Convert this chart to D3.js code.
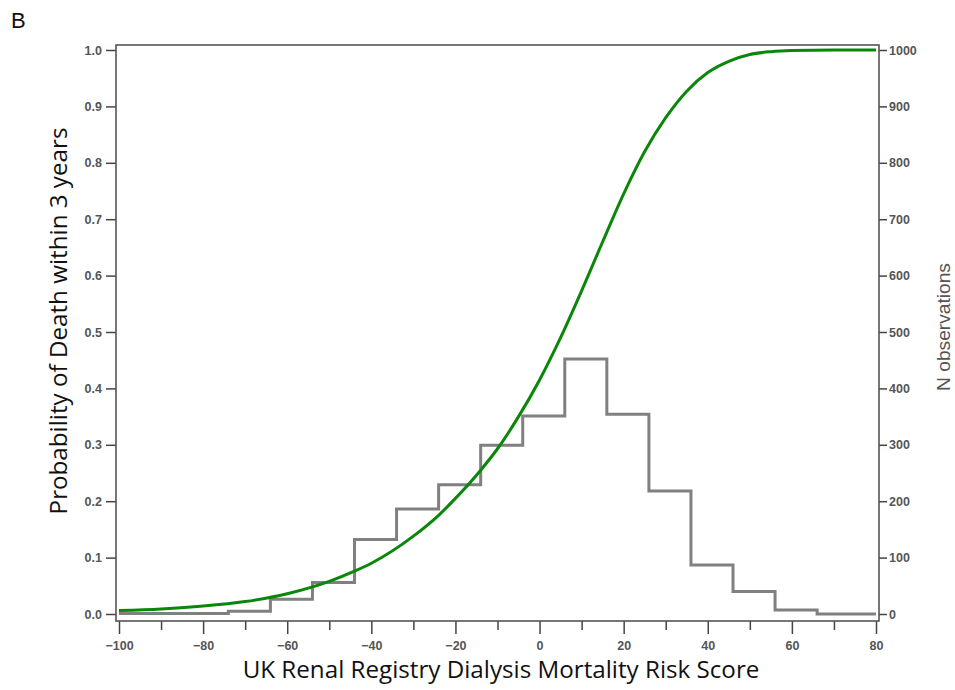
<!DOCTYPE html>
<html>
<head>
<meta charset="utf-8">
<script src="https://cdn.jsdelivr.net/npm/d3@7"></script>
<style>
  body { margin: 0; background: #fff; }
  svg { display: block; }
</style>
</head>
<body>
<div id="chart"></div>
<script>
// histogram of scores (right axis, N observations)
const binEdges = [-100, -74, -64, -54, -44, -34, -24, -14, -4, 6, 16, 26, 36, 46, 56, 66, 80];
const binCounts = [1, 5, 26, 56, 132, 186, 229, 299, 351, 452, 354, 218, 87, 40, 7, 0];

// probability of death within 3 years
const curveScore = [-100, -90, -80, -70, -60, -50, -44, -40, -30, -24, -20, -14, -10, -5, 0, 5, 10, 15, 20, 25, 30, 35, 40, 45, 50, 55, 60, 70, 80];
const curveProb  = [0.006, 0.009, 0.014, 0.022, 0.036, 0.058, 0.076, 0.090, 0.138, 0.175, 0.205, 0.255, 0.293, 0.350, 0.415, 0.490, 0.573, 0.660, 0.745, 0.820, 0.880, 0.927, 0.960, 0.980, 0.992, 0.997, 0.999, 1.0, 1.0];

const xMajor = d3.range(-100, 81, 20);
const xMinor = d3.range(-90, 80, 20);
const yLeftTicks = d3.range(0, 1.01, 0.1);
const yRightTicks = d3.range(0, 1001, 100);

const WIDTH = 955, HEIGHT = 690;
const frame = {left: 116, right: 879, top: 45, bottom: 621};

const svg = d3.select("#chart").append("svg")
    .attr("width", WIDTH)
    .attr("height", HEIGHT);

let x = d3.scaleLinear().domain([-100, 80]).range([119, 876]);
let yL = d3.scaleLinear().domain([0, 1]).range([614, 50]);
let yR = d3.scaleLinear().domain([0, 1000]).range([614, 50]);

const tickFont = "'Liberation Sans', Arial, sans-serif";

// panel letter
svg.append("text")
    .attr("x", 11).attr("y", 28)
    .attr("font-family", tickFont)
    .attr("font-size", 22)
    .attr("fill", "#111")
    .text("B");

// axes
let leftAxis = svg.append("g")
    .attr("transform", `translate(${frame.left},0)`)
    .call(d3.axisLeft(yL).tickValues(yLeftTicks).tickSize(10).tickPadding(4).tickFormat(d3.format(".1f")));

let rightAxis = svg.append("g")
    .attr("transform", `translate(${frame.right},0)`)
    .call(d3.axisRight(yR).tickValues(yRightTicks).tickSize(8).tickPadding(2).tickFormat(d3.format("d")));

let bottomAxis = svg.append("g")
    .attr("transform", `translate(0,${frame.bottom})`)
    .call(d3.axisBottom(x).tickValues(xMajor).tickSize(13).tickPadding(7).tickFormat(d3.format("d")));

let minorAxis = svg.append("g")
    .attr("transform", `translate(0,${frame.bottom})`)
    .call(d3.axisBottom(x).tickValues(xMinor).tickSize(9).tickFormat(""));

[leftAxis, rightAxis, bottomAxis, minorAxis].forEach(g => {
    g.select(".domain").remove();
    g.selectAll("line").attr("stroke", "#444").attr("stroke-width", 1.5);
    g.selectAll("text")
        .style("font-family", tickFont)
        .style("font-size", "12.5px")
        .style("font-weight", "bold")
        .style("fill", "#555");
});

// frame
svg.append("rect")
    .attr("x", frame.left).attr("y", frame.top)
    .attr("width", frame.right - frame.left)
    .attr("height", frame.bottom - frame.top)
    .attr("fill", "none")
    .attr("stroke", "#555")
    .attr("stroke-width", 1.6);

// histogram steps
let histPts = binCounts.map((c, i) => [binEdges[i], c]);
histPts.push([binEdges[binEdges.length - 1], binCounts[binCounts.length - 1]]);

svg.append("path")
    .datum(histPts)
    .attr("fill", "none")
    .attr("stroke", "#808080")
    .attr("stroke-width", 3)
    .attr("d", d3.line()
        .x(d => x(d[0]))
        .y(d => yR(d[1]))
        .curve(d3.curveStepAfter));

// probability curve
let curvePts = curveScore.map((s, i) => [s, curveProb[i]]);
svg.append("path")
    .datum(curvePts)
    .attr("fill", "none")
    .attr("stroke", "#0a870a")
    .attr("stroke-width", 3)
    .attr("d", d3.line()
        .x(d => x(d[0]))
        .y(d => yL(d[1]))
        .curve(d3.curveMonotoneX));

// titles
const titleFont = "'Open Sans', 'Noto Sans', sans-serif";

function fitWidth(sel, target) {
    let w = sel.node().getComputedTextLength();
    let fs = parseFloat(sel.style("font-size"));
    sel.style("font-size", (fs * target / w) + "px");
}

let xTitle = svg.append("text")
    .attr("x", 501).attr("y", 678)
    .attr("text-anchor", "middle")
    .style("font-family", titleFont)
    .style("font-size", "20px")
    .style("fill", "#111")
    .text("UK Renal Registry Dialysis Mortality Risk Score");
fitWidth(xTitle, 517);

let yTitle = svg.append("text")
    .attr("transform", "translate(67,321) rotate(-90)")
    .attr("text-anchor", "middle")
    .style("font-family", titleFont)
    .style("font-size", "20px")
    .style("fill", "#111")
    .text("Probability of Death within 3 years");
fitWidth(yTitle, 387);

let rTitle = svg.append("text")
    .attr("transform", "translate(950,327) rotate(-90)")
    .attr("text-anchor", "middle")
    .style("font-family", tickFont)
    .style("font-size", "14px")
    .style("fill", "#555")
    .text("N observations");
fitWidth(rTitle, 128);
</script>
</body>
</html>
